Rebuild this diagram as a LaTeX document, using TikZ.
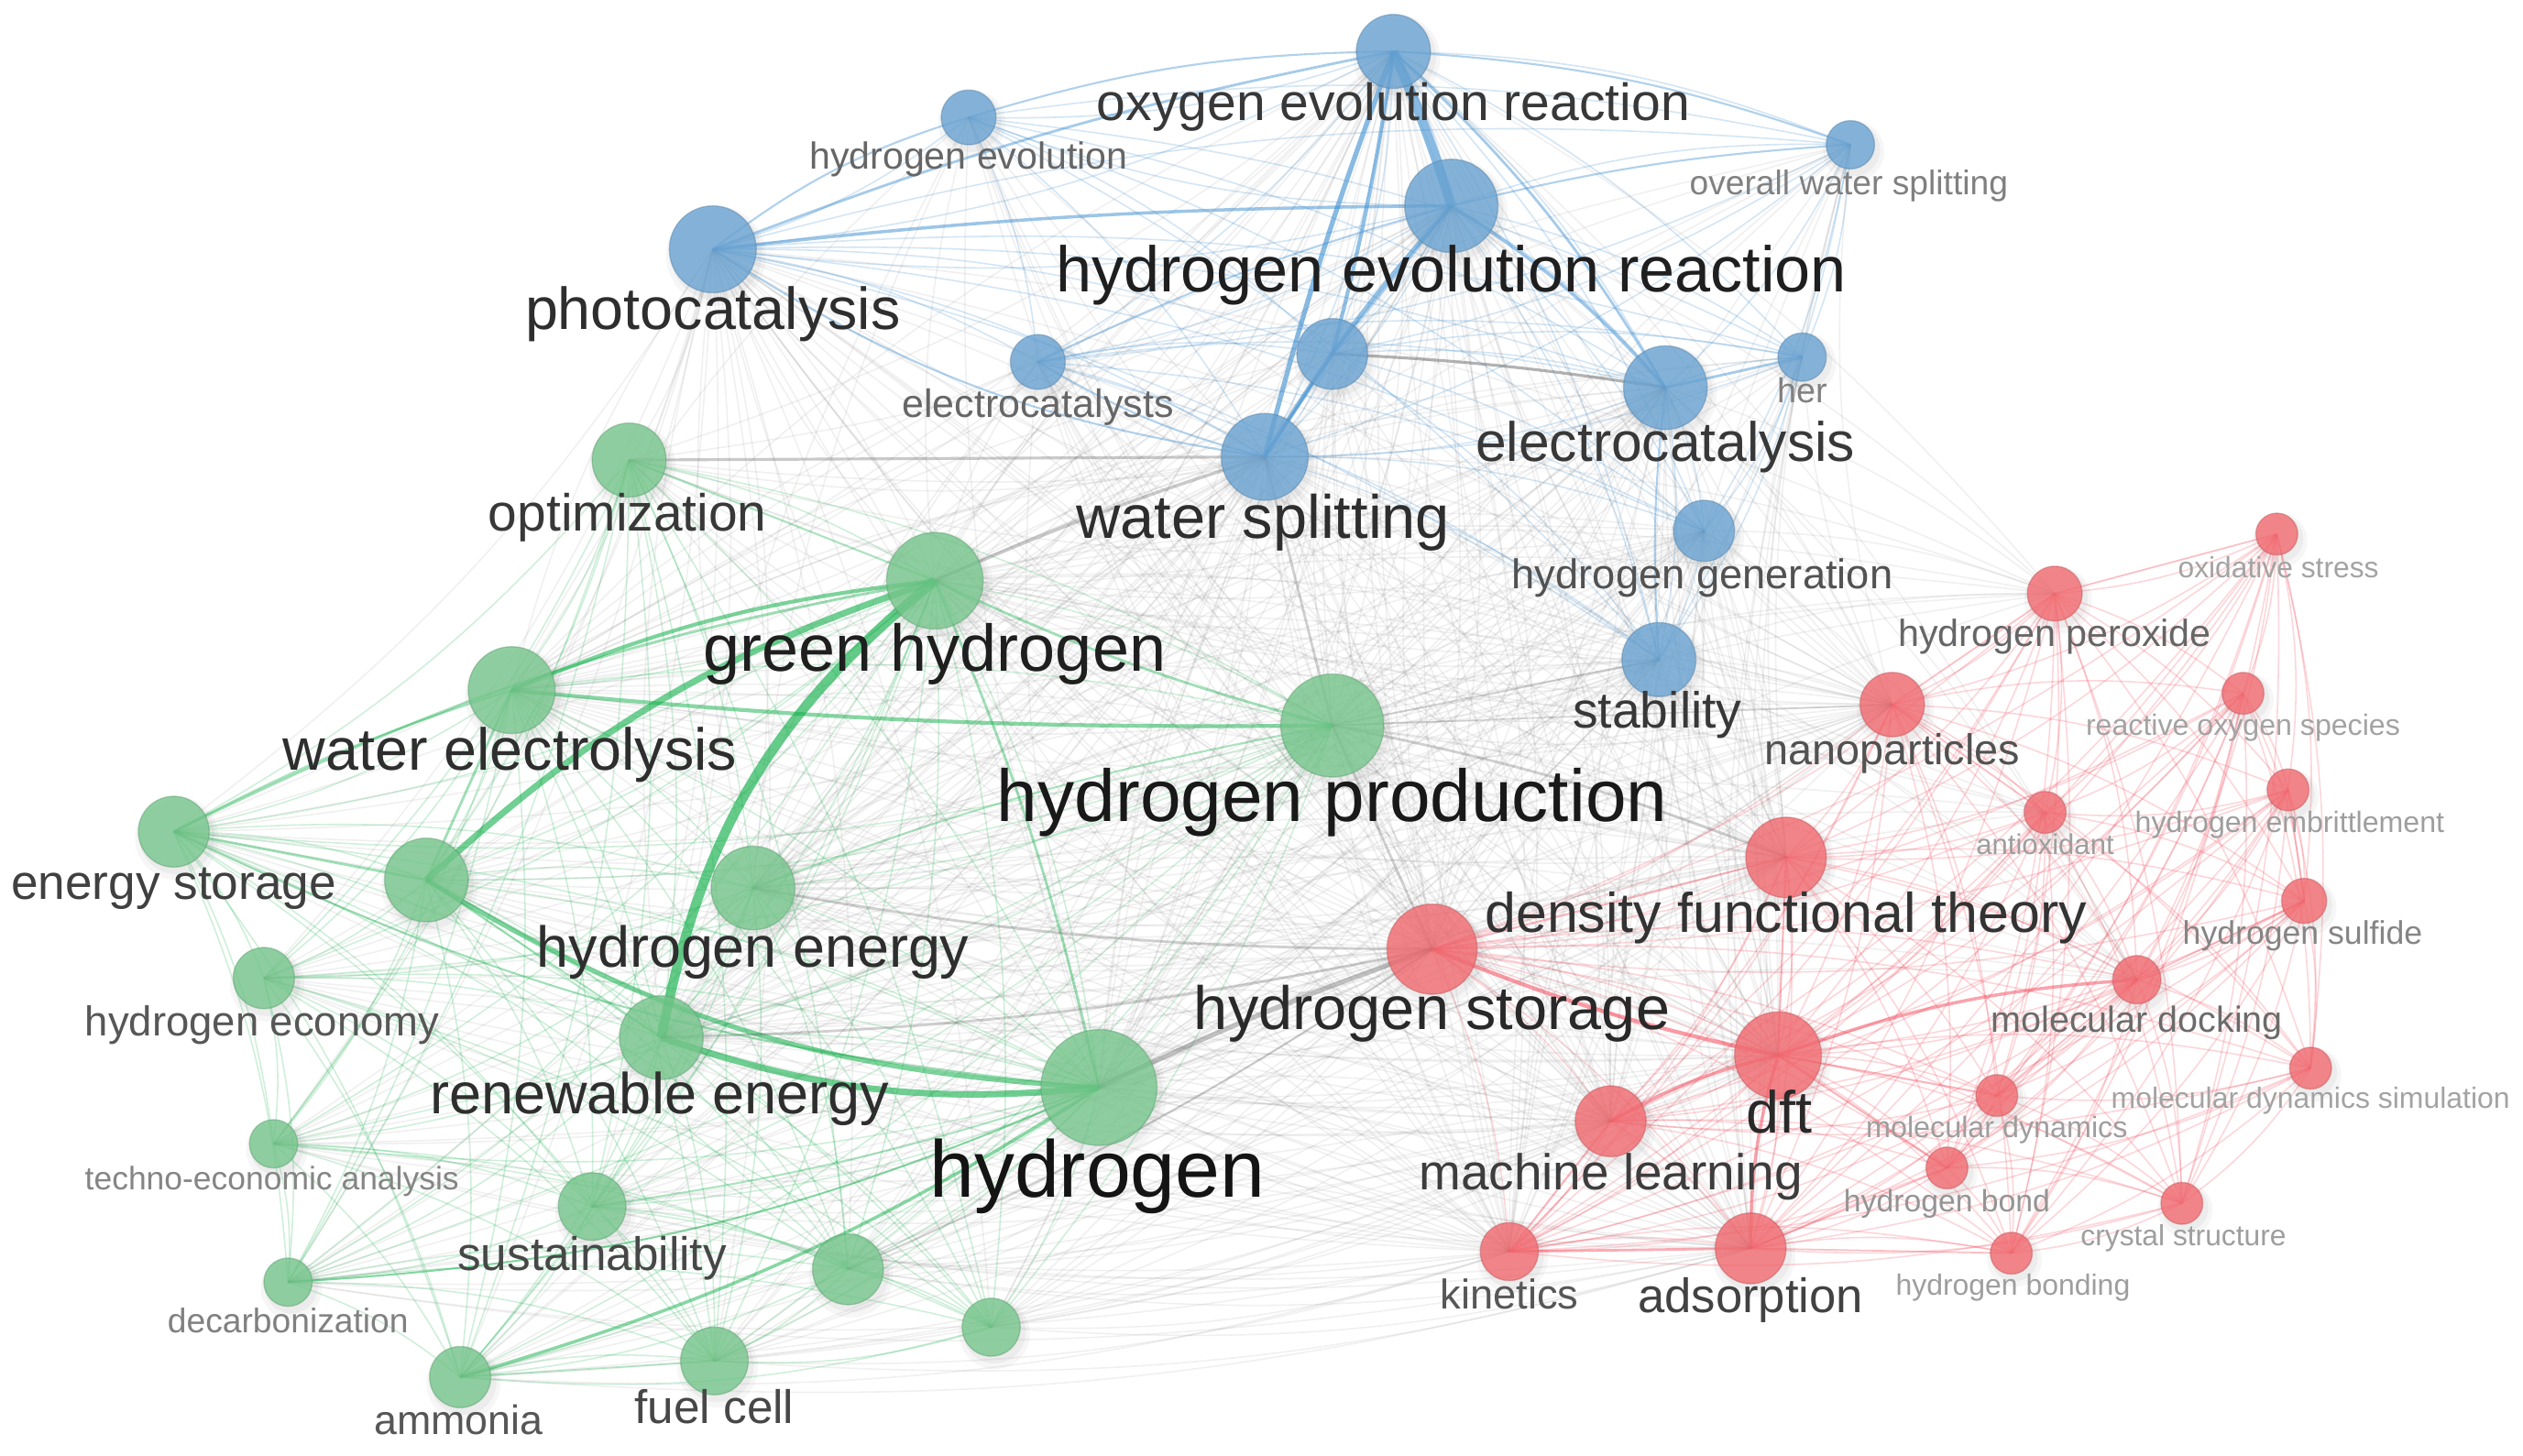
\documentclass[tikz,border=0pt]{standalone}
\usepackage{fontspec}
\setmainfont{Liberation Sans}
\usetikzlibrary{calc}
\pgfdeclarelayer{paperlayer}
\pgfdeclarelayer{shadowlayer}
\pgfdeclarelayer{edgelayer}
\pgfsetlayers{paperlayer,shadowlayer,edgelayer,main}
\definecolor{cb}{HTML}{6AA3D2}
\definecolor{cg}{HTML}{76C68C}
\definecolor{cr}{HTML}{F26A70}
\definecolor{eb}{HTML}{3A8DD0}
\definecolor{eg}{HTML}{12B04A}
\definecolor{er}{HTML}{F5485A}
\tikzset{
  kwn/.style={circle, inner sep=0pt, fill=#1, fill opacity=.8, draw=#1!80!black, draw opacity=.45, line width=.2pt},
  eB/.style={draw=eb, opacity=.22, line width=.225pt},
  eG/.style={draw=eg, opacity=.2, line width=.225pt},
  eR/.style={draw=er, opacity=.22, line width=.225pt},
  eX/.style={draw=black!55, opacity=.1, line width=.225pt},
  kwlab/.style={anchor=base, inner sep=0pt},
}
\newcommand\kw[5]{%
  \begin{pgfonlayer}{shadowlayer}
    \fill[black,opacity=.035] (#2+2,#3+4) circle[radius={(#4+4)*0.25pt}];
    \fill[black,opacity=.04] (#2+2,#3+3) circle[radius={(#4+1.5)*0.25pt}];
  \end{pgfonlayer}
  \node[kwn=#5, minimum size={2*#4*0.25pt}] (#1) at (#2,#3) {};}
\newcommand\lab[6]{%
  \pgfmathsetmacro\kwfs{#4*0.25}%
  \node[kwlab, text=black!#5, font=\fontsize{\kwfs}{\kwfs}\selectfont] (l#1) at (#2,{#3+0.34*#4}) {#6};}
\newcommand\Bl{oer,herr,hev,photo,ows,ecats,bu1,ecat,her,ws,hgen,stab}
\newcommand\Gl{opt,gh,wel,hp,es,gu1,he,hec,re,h,tea,sus,dec,gu2,gu3,amm,fc}
\newcommand\Rl{ox,hpx,nano,ros,hemb,anti,dftl,hs,hst,md,dft,mds,mdyn,ml,hb,cs,kin,ads,hbg}
\begin{document}
\begin{tikzpicture}[x=0.25pt,y=-0.25pt]
\begin{pgfonlayer}{paperlayer}
\fill[white] (0,0) rectangle (1568,905);
\end{pgfonlayer}
\useasboundingbox (0,0) rectangle (1568,905);

% blue cluster
\kw{oer}{866}{32}{23}{cb}
\kw{herr}{902}{128}{29}{cb}
\kw{hev}{602}{73}{17}{cb}
\kw{photo}{443}{155}{27}{cb}
\kw{ows}{1150}{90}{15}{cb}
\kw{ecats}{645}{225}{17}{cb}
\kw{bu1}{828}{220}{22}{cb}
\kw{ecat}{1035}{241}{26}{cb}
\kw{her}{1120}{222}{15}{cb}
\kw{ws}{786}{284}{27}{cb}
\kw{hgen}{1059}{330}{19}{cb}
\kw{stab}{1031}{410}{23}{cb}
% green cluster
\kw{opt}{391}{286}{23}{cg}
\kw{gh}{581}{361}{30}{cg}
\kw{wel}{318}{429}{27}{cg}
\kw{hp}{828}{451}{32}{cg}
\kw{es}{108}{517}{22}{cg}
\kw{gu1}{265}{547}{26}{cg}
\kw{he}{468}{552}{26}{cg}
\kw{hec}{164}{608}{19}{cg}
\kw{re}{411}{645}{26}{cg}
\kw{h}{683}{676}{36}{cg}
\kw{tea}{170}{711}{15}{cg}
\kw{sus}{368}{750}{21}{cg}
\kw{dec}{179}{797}{15}{cg}
\kw{gu2}{527}{789}{22}{cg}
\kw{gu3}{616}{825}{18}{cg}
\kw{amm}{286}{856}{19}{cg}
\kw{fc}{444}{846}{21}{cg}
% red cluster
\kw{ox}{1415}{332}{13}{cr}
\kw{hpx}{1277}{369}{17}{cr}
\kw{nano}{1176}{438}{20}{cr}
\kw{ros}{1394}{431}{13}{cr}
\kw{hemb}{1422}{491}{13}{cr}
\kw{anti}{1271}{505}{13}{cr}
\kw{dftl}{1110}{533}{25}{cr}
\kw{hs}{1432}{560}{14}{cr}
\kw{hst}{890}{590}{28}{cr}
\kw{md}{1328}{609}{15}{cr}
\kw{dft}{1105}{656}{27}{cr}
\kw{mds}{1436}{664}{13}{cr}
\kw{mdyn}{1241}{681}{13}{cr}
\kw{ml}{1001}{697}{22}{cr}
\kw{hb}{1210}{726}{13}{cr}
\kw{cs}{1356}{748}{13}{cr}
\kw{kin}{938}{778}{18}{cr}
\kw{ads}{1088}{776}{22}{cr}
\kw{hbg}{1250}{779}{13}{cr}

\begin{pgfonlayer}{edgelayer}
% intra-cluster links
\foreach \a [count=\i] in \Bl {\foreach \b [count=\j] in \Bl {\ifnum\j>\i \draw[eB] (\a.center) to[bend left=10] (\b.center);\fi}}
\foreach \a [count=\i] in \Gl {\foreach \b [count=\j] in \Gl {\ifnum\j>\i \draw[eG] (\a.center) to[bend left=10] (\b.center);\fi}}
\foreach \a [count=\i] in \Rl {\foreach \b [count=\j] in \Rl {\ifnum\j>\i \draw[eR] (\a.center) to[bend left=10] (\b.center);\fi}}
% inter-cluster links
\foreach \a in {h,hp,gh,he,re,wel} {\foreach \b in {oer,herr,hev,photo,ows,ecats,bu1,ecat,her,ws,hgen,stab,hst,dft,dftl,nano,ads,ml,kin,hpx,md,anti} {\draw[eX] (\a.center) to[bend left=10] (\b.center);}}
\foreach \a in {ws,herr,photo,oer,ecat,stab,hgen} {\foreach \b in {opt,gh,wel,hp,es,gu1,he,hec,re,h,tea,sus,dec,gu2,gu3,amm,fc,hst,dft,dftl,nano,ads,ml,kin,hpx,md} {\draw[eX] (\a.center) to[bend left=10] (\b.center);}}
\foreach \a in {hst,dft,dftl,nano,ads,ml,kin} {\foreach \b in {opt,gh,wel,hp,es,gu1,he,hec,re,h,tea,sus,dec,gu2,gu3,amm,fc,oer,herr,hev,photo,ows,ecats,bu1,ecat,her,ws,hgen} {\draw[eX] (\a.center) to[bend left=10] (\b.center);}}
% strong blue links
\draw[eB, opacity=.6, line width=1.5pt] (oer.center) to[bend left=3] (herr.center);
\draw[eB, opacity=.6, line width=.75pt] (oer.center) to[bend right=3] (ws.center);
\draw[eB, opacity=.55, line width=.6pt] (oer.center) to[bend left=3] (bu1.center);
\draw[eB, opacity=.55, line width=.6pt] (herr.center) to[bend right=5] (ws.center);
\draw[eB, opacity=.55, line width=.5pt] (bu1.center) to (ws.center);
\draw[eB, opacity=.5, line width=.5pt] (photo.center) to[bend left=3] (herr.center);
\draw[eB, opacity=.45, line width=.4pt] (photo.center) to[bend left=5] (oer.center);
\draw[eB, opacity=.5, line width=.5pt] (herr.center) to[bend left=8] (ecat.center);
\draw[black!60, opacity=.5, line width=.45pt] (ecat.center) to[bend right=3] (bu1.center);
\draw[eB, opacity=.45, line width=.4pt] (ecat.center) to (her.center);
\draw[eB, opacity=.45, line width=.4pt] (oer.center) to[bend left=8] (ecat.center);
\draw[eB, opacity=.45, line width=.4pt] (herr.center) to (bu1.center);
\draw[eB, opacity=.4, line width=.3pt] (photo.center) to[bend left=10] (hev.center);
\draw[eB, opacity=.4, line width=.3pt] (hev.center) to[bend left=8] (oer.center);
\draw[eB, opacity=.4, line width=.3pt] (oer.center) to[bend left=8] (ows.center);
\draw[eB, opacity=.4, line width=.3pt] (herr.center) to[bend left=5] (ows.center);
\draw[eB, opacity=.4, line width=.3pt] (ecats.center) to[bend left=5] (herr.center);
\draw[eB, opacity=.4, line width=.3pt] (ecats.center) to[bend right=8] (ws.center);
\draw[eB, opacity=.4, line width=.3pt] (stab.center) to[bend left=5] (ecat.center);
\draw[eB, opacity=.4, line width=.3pt] (photo.center) to[bend right=12] (ws.center);
% strong green links
\draw[eG, opacity=.65, line width=1.5pt] (gh.center) to[bend right=20] (re.center);
\draw[eG, opacity=.6, line width=1pt] (gh.center) to[bend right=12] (gu1.center);
\draw[eG, opacity=.55, line width=.6pt] (gh.center) to[bend right=8] (wel.center);
\draw[eG, opacity=.6, line width=1pt] (h.center) to[bend left=12] (re.center);
\draw[eG, opacity=.55, line width=.75pt] (h.center) to[bend left=14] (gu1.center);
\draw[eG, opacity=.5, line width=.5pt] (h.center) to[bend left=8] (amm.center);
\draw[eG, opacity=.4, line width=.3pt] (h.center) to[bend left=10] (dec.center);
\draw[eG, opacity=.4, line width=.3pt] (h.center) to[bend left=10] (es.center);
\draw[eG, opacity=.4, line width=.4pt] (gh.center) to[bend left=5] (h.center);
\draw[eG, opacity=.5, line width=.6pt] (hp.center) to[bend left=3] (wel.center);
\draw[eG, opacity=.4, line width=.4pt] (hp.center) to[bend left=5] (gh.center);
\draw[eG, opacity=.4, line width=.4pt] (gu1.center) to (wel.center);
\draw[eG, opacity=.4, line width=.4pt] (gu1.center) to (es.center);
\draw[eG, opacity=.4, line width=.4pt] (es.center) to[bend left=8] (gh.center);
\draw[eG, opacity=.35, line width=.3pt] (es.center) to[bend left=5] (wel.center);
\draw[eG, opacity=.35, line width=.3pt] (re.center) to (gu1.center);
\draw[eG, opacity=.35, line width=.3pt] (opt.center) to (gh.center);
\draw[eG, opacity=.35, line width=.3pt] (sus.center) to[bend right=5] (h.center);
\draw[eG, opacity=.35, line width=.3pt] (hp.center) to[bend right=5] (he.center);
\draw[eG, opacity=.3, line width=.25pt] (fc.center) to (amm.center);
% strong red links
\draw[eR, opacity=.55, line width=.6pt] (hst.center) to[bend right=5] (dft.center);
\draw[eR, opacity=.5, line width=.5pt] (dft.center) to[bend left=8] (md.center);
\draw[eR, opacity=.5, line width=.5pt] (dft.center) to[bend right=8] (ads.center);
\draw[eR, opacity=.5, line width=.5pt] (dft.center) to[bend right=8] (ml.center);
\draw[eR, opacity=.45, line width=.4pt] (ads.center) to (kin.center);
\draw[eR, opacity=.4, line width=.3pt] (ml.center) to (kin.center);
\draw[eR, opacity=.4, line width=.3pt] (dft.center) to (dftl.center);
\draw[eR, opacity=.4, line width=.3pt] (hst.center) to (dftl.center);
\draw[eR, opacity=.4, line width=.3pt] (dft.center) to (mdyn.center);
\draw[eR, opacity=.4, line width=.3pt] (dft.center) to (hb.center);
\draw[eR, opacity=.35, line width=.25pt] (ads.center) to (hbg.center);
\draw[eR, opacity=.35, line width=.25pt] (ads.center) to (hb.center);
\draw[eR, opacity=.35, line width=.25pt] (md.center) to (mdyn.center);
\draw[eR, opacity=.35, line width=.25pt] (md.center) to (hs.center);
\draw[eR, opacity=.35, line width=.25pt] (nano.center) to (hpx.center);
\draw[eR, opacity=.35, line width=.25pt] (hpx.center) to (ox.center);
\draw[eR, opacity=.35, line width=.25pt] (nano.center) to (anti.center);
\draw[eR, opacity=.35, line width=.25pt] (hs.center) to (hemb.center);
% strong grey links
\draw[black!60, opacity=.4, line width=.75pt] (h.center) to[bend left=3] (hst.center);
\draw[black!60, opacity=.3, line width=.4pt] (hp.center) to (hst.center);
\draw[black!60, opacity=.3, line width=.4pt] (hp.center) to[bend left=5] (dftl.center);
\draw[black!60, opacity=.35, line width=.5pt] (gh.center) to[bend left=3] (ws.center);
\draw[black!60, opacity=.35, line width=.45pt] (opt.center) to (ws.center);
\draw[black!60, opacity=.3, line width=.4pt] (he.center) to[bend right=5] (hst.center);
\draw[black!60, opacity=.3, line width=.4pt] (re.center) to[bend right=5] (hst.center);
\draw[black!60, opacity=.3, line width=.3pt] (gu2.center) to[bend right=5] (hst.center);
\draw[black!60, opacity=.3, line width=.4pt] (hp.center) to (ws.center);
\draw[black!60, opacity=.25, line width=.3pt] (stab.center) to (hp.center);
\draw[black!60, opacity=.25, line width=.25pt] (hp.center) to (nano.center);
\end{pgfonlayer}

% labels
\lab{oer}{866}{64}{32.5}{78}{oxygen evolution reaction}
\lab{herr}{902}{168}{40}{88}{hydrogen evolution reaction}
\lab{hev}{602}{97}{23.4}{60}{hydrogen evolution}
\lab{photo}{443}{192}{36.8}{82}{photocatalysis}
\lab{ows}{1149}{114}{21.2}{50}{overall water splitting}
\lab{ecats}{645}{251}{24.5}{60}{electrocatalysts}
\lab{ecat}{1035}{275}{34.5}{78}{electrocatalysis}
\lab{her}{1120}{243}{21.5}{50}{her}
\lab{ws}{785}{322}{38}{82}{water splitting}
\lab{hgen}{1058}{357}{25.8}{68}{hydrogen generation}
\lab{stab}{1030}{442}{31.5}{78}{stability}
\lab{opt}{390}{319}{32.4}{78}{optimization}
\lab{gh}{581}{403}{41}{88}{green hydrogen}
\lab{wel}{317}{466}{36.8}{82}{water electrolysis}
\lab{hp}{828}{495}{45.7}{90}{hydrogen production}
\lab{es}{108}{549}{30.3}{75}{energy storage}
\lab{he}{468}{589}{35.8}{82}{hydrogen energy}
\lab{hec}{163}{635}{25.9}{66}{hydrogen economy}
\lab{re}{410}{680}{35.9}{82}{renewable energy}
\lab{h}{682}{727}{50}{92}{hydrogen}
\lab{tea}{169}{733}{20.2}{48}{techno-economic analysis}
\lab{sus}{368}{780}{29.2}{72}{sustainability}
\lab{dec}{179}{821}{21.2}{50}{decarbonization}
\lab{amm}{285}{883}{25.5}{66}{ammonia}
\lab{fc}{444}{875}{29.2}{72}{fuel cell}
\lab{ox}{1416}{353}{18.1}{36}{oxidative stress}
\lab{hpx}{1277}{394}{23.5}{60}{hydrogen peroxide}
\lab{nano}{1176}{466}{26.7}{68}{nanoparticles}
\lab{ros}{1394}{451}{18.3}{36}{reactive oxygen species}
\lab{hemb}{1423}{511}{18.3}{38}{hydrogen embrittlement}
\lab{anti}{1271}{525}{17.7}{38}{antioxidant}
\lab{dftl}{1110}{568}{34.7}{80}{density functional theory}
\lab{hs}{1431}{580}{20.3}{48}{hydrogen sulfide}
\lab{hst}{890}{627}{38}{84}{hydrogen storage}
\lab{md}{1328}{634}{22.5}{58}{molecular docking}
\lab{dft}{1106}{692}{36.9}{84}{dft}
\lab{mds}{1436}{683}{18.2}{36}{molecular dynamics simulation}
\lab{mdyn}{1241}{701}{18.4}{38}{molecular dynamics}
\lab{ml}{1001}{729}{31.3}{76}{machine learning}
\lab{hb}{1210}{747}{19.2}{42}{hydrogen bond}
\lab{cs}{1357}{768}{18.1}{38}{crystal structure}
\lab{kin}{938}{805}{25.8}{66}{kinetics}
\lab{ads}{1088}{806}{30}{74}{adsorption}
\lab{hbg}{1251}{799}{18.2}{38}{hydrogen bonding}
\end{tikzpicture}
\end{document}
